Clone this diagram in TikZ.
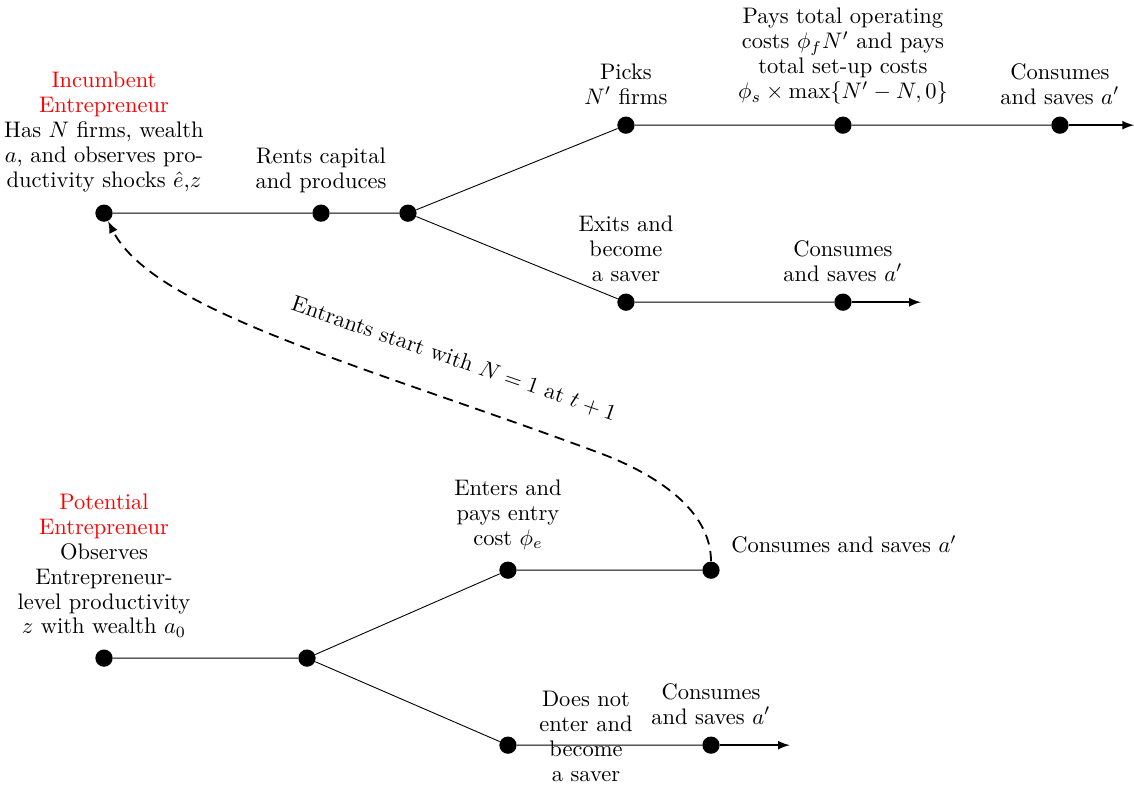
\documentclass[tikz,border=0pt]{standalone}
\usetikzlibrary{positioning}
\tikzset{>=latex}
\tikzset{
  dot/.style={circle,fill=black,inner sep=0pt,minimum size=0.27cm},
  txt/.style={align=center,inner sep=0pt,font=\fontsize{10}{11.1}\selectfont},
  go/.style={->,thick},
  entrant/.style={->,thick,dash pattern=on 4.5pt off 3pt}
}
\def\gap{5pt}

\begin{document}
\begin{tikzpicture}
  \useasboundingbox (0,0) rectangle (17.72,12.30);
  % dots of the incumbent tree
  \foreach \n/\x/\y in {I0/1.625/8.969,I1/5.016/8.969,I2/6.375/8.969,
                        I3/9.781/10.344,I4/13.172/10.344,I5/16.5625/10.344,
                        E1/9.781/7.578,E2/13.172/7.578} {
    \node[dot] (\n) at (\x,\y) {};
  }
  % dots of the potential entrant tree
  \foreach \n/\x/\y in {P0/1.625/2.016,P1/4.797/2.016,P2/7.9375/3.39,
                        P3/11.11/3.39,P4/7.9375/0.656,P5/11.11/0.656} {
    \node[dot] (\n) at (\x,\y) {};
  }
  % free ends of the arrows
  \coordinate (I6) at (17.72,10.344);
  \coordinate (E3) at (14.39,7.578);
  \coordinate (P6) at (12.34,0.656);
  % lines
  \draw (I0) -- (I1) -- (I2) -- (I3) -- (I4) -- (I5);
  \draw (I2) -- (E1) -- (E2);
  \draw (P0) -- (P1) -- (P2) -- (P3);
  \draw (P1) -- (P4) -- (P5);
  \draw[go] (I5) -- (I6);
  \draw[go] (E2) -- (E3);
  \draw[go] (P5) -- (P6);
  % entrants go back to the incumbent
  \coordinate (bend) at (9.375,5.219);
  \draw[entrant] (P3) .. controls +(0,0.94) and +(0.875,-0.328) .. (bend)
    .. controls +(-3.656,1.359) and +(0.773,-1.531) .. (I0);
  \node[txt,rotate=-19] (back) at (7.094,6.69) {Entrants start with $N=1$ at $t+1$};
  % labels of the incumbent
  \node[txt,above=\gap of I0] (I0t) {\textcolor{red}{Incumbent}\\\textcolor{red}{Entrepreneur}\\Has $N$ firms, wealth\\$a$, and observes pro-\\ductivity shocks $\hat{e}$,$z$};
  \node[txt,above=\gap of I1] (I1t) {Rents capital\\and produces};
  \node[txt,above=\gap of I3] (I3t) {Picks\\$N'$ firms};
  \node[txt,above=\gap of I4] (I4t) {Pays total operating\\costs $\phi_f N'$ and pays\\total set-up costs\\$\phi_s\times\max\{N'-N,0\}$};
  \node[txt,above=\gap of I5] (I5t) {Consumes\\and saves $a'$};
  \node[txt,above=\gap of E1] (E1t) {Exits and\\become\\a saver};
  \node[txt,above=\gap of E2] (E2t) {Consumes\\and saves $a'$};
  % labels of the potential entrant
  \node[txt,above=\gap of P0] (P0t) {\textcolor{red}{Potential}\\\textcolor{red}{Entrepreneur}\\Observes\\Entrepreneur-\\level productivity\\$z$ with wealth $a_0$};
  \node[txt,above=\gap of P2] (P2t) {Enters and\\pays entry\\cost $\phi_e$};
  \node[txt,anchor=base west] (P3t) at ([xshift=0.31cm,yshift=0.27cm]P3) {Consumes and saves $a'$};
  \node[txt] (P4t) at (9.156,0.797) {Does not\\enter and\\become\\a saver};
  \node[txt,above=\gap of P5] (P5t) {Consumes\\and saves $a'$};
\end{tikzpicture}
\end{document}
